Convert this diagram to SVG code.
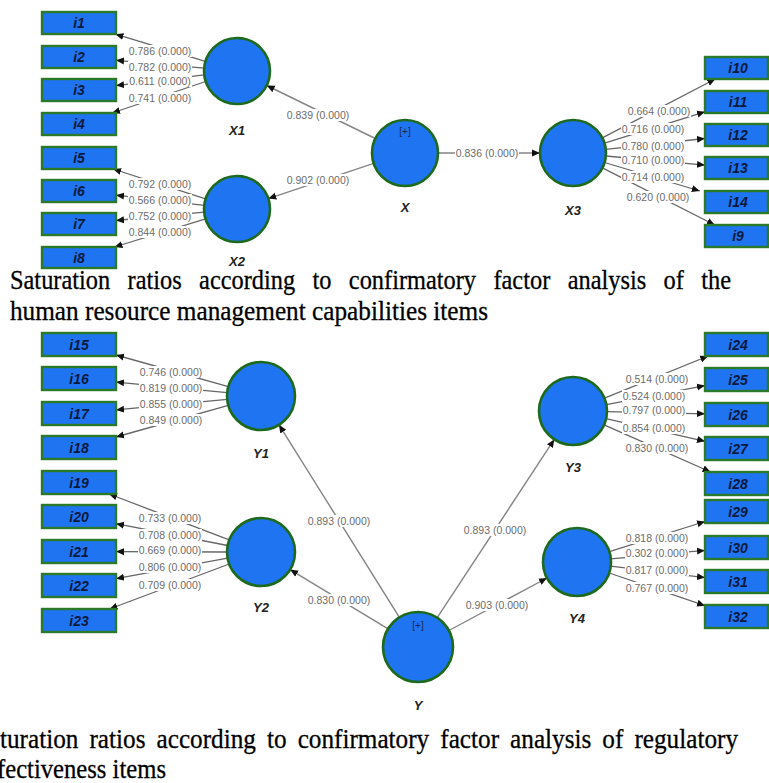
<svg xmlns="http://www.w3.org/2000/svg" width="769" height="783" viewBox="0 0 769 783">
<style>
.lat{fill:#1f74f2;stroke:#1d6a1d;stroke-width:2.6}
.ind{fill:#1f74f2;stroke:#2a7a2a;stroke-width:2.4}
.it{font-family:"Liberation Sans",Arial,sans-serif;font-weight:bold;font-style:italic;font-size:14px;fill:#0b1a3c;text-anchor:middle;dominant-baseline:central}
.ln{font-family:"Liberation Sans",Arial,sans-serif;font-weight:bold;font-style:italic;font-size:13px;fill:#222;text-anchor:middle}
.pl{font-family:"Liberation Sans",Arial,sans-serif;font-size:10px;fill:#1a2a55;text-anchor:middle}
.e{stroke:#666;stroke-width:1.3;fill:none;marker-end:url(#ah)}
.s{stroke:#858585;stroke-width:1.4;fill:none;marker-end:url(#ah)}
.lb{font-family:"Liberation Sans",Arial,sans-serif;font-size:10.5px;fill:#6c6c6c;text-anchor:middle;dominant-baseline:central}
.bg{fill:#fff}
.cap{font-size:28px;fill:#000;stroke:#000;stroke-width:0.3}
</style>
<defs>
<marker id="ah" markerUnits="userSpaceOnUse" markerWidth="9" markerHeight="8" refX="8" refY="4" orient="auto">
<path d="M0,0.5 L8,4 L0,7.5 z" fill="#111"/>
</marker>
</defs>
<rect width="769" height="783" fill="#fff"/>

<g id="connectors">
<!-- top: X1 -->
<line class="e" x1="205.4" y1="61.4" x2="115.5" y2="34.2"/>
<line class="e" x1="204.1" y1="68.1" x2="116" y2="60.3"/>
<line class="e" x1="204.2" y1="74.9" x2="116" y2="85.6"/>
<line class="e" x1="205.7" y1="81.5" x2="112" y2="113"/>
<!-- X2 -->
<line class="e" x1="205.6" y1="198.9" x2="113.1" y2="169"/>
<line class="e" x1="204.2" y1="205.3" x2="116" y2="195.2"/>
<line class="e" x1="204.1" y1="212.1" x2="116" y2="220.5"/>
<line class="e" x1="205.5" y1="218.8" x2="114.5" y2="247"/>
<!-- X structural -->
<line class="s" x1="375.3" y1="138.5" x2="266.7" y2="85.5"/>
<line class="s" x1="373.7" y1="163.4" x2="268.3" y2="198.6"/>
<line class="s" x1="438" y1="153" x2="540" y2="153"/>
<!-- X3 -->
<line class="e" x1="602.3" y1="137.8" x2="715.3" y2="79"/>
<line class="e" x1="604.5" y1="143.2" x2="705" y2="111.8"/>
<line class="e" x1="605.8" y1="149.4" x2="705" y2="138.5"/>
<line class="e" x1="605.9" y1="156" x2="705" y2="165.1"/>
<line class="e" x1="604.6" y1="162.5" x2="699.8" y2="191"/>
<line class="e" x1="602.4" y1="167.9" x2="714.8" y2="225"/>
<!-- bottom: Y1 -->
<line class="e" x1="228.3" y1="386.7" x2="116" y2="355"/>
<line class="e" x1="227.2" y1="392.7" x2="116" y2="382.1"/>
<line class="e" x1="227.2" y1="399.3" x2="116" y2="409.9"/>
<line class="e" x1="228.3" y1="405.3" x2="116" y2="437"/>
<!-- Y2 -->
<line class="e" x1="229.2" y1="539.9" x2="109.1" y2="494"/>
<line class="e" x1="227.6" y1="545.5" x2="116" y2="523.7"/>
<line class="e" x1="227" y1="552" x2="116" y2="551.6"/>
<line class="e" x1="227.6" y1="558.2" x2="116" y2="578.7"/>
<line class="e" x1="229.2" y1="564" x2="109.5" y2="609"/>
<!-- Y structural -->
<line class="s" x1="399.4" y1="617.3" x2="279" y2="424.8"/>
<line class="s" x1="388.1" y1="628.9" x2="290.1" y2="569.6"/>
<line class="s" x1="437.2" y1="617.7" x2="554.3" y2="439.4"/>
<line class="s" x1="448.9" y1="630.5" x2="547" y2="578"/>
<!-- Y3 -->
<line class="e" x1="604.5" y1="398.2" x2="708.2" y2="356"/>
<line class="e" x1="606.4" y1="404.6" x2="705" y2="385.6"/>
<line class="e" x1="607" y1="411.7" x2="705" y2="413.8"/>
<line class="e" x1="606.1" y1="418.6" x2="705" y2="441.3"/>
<line class="e" x1="604.1" y1="424.8" x2="710.6" y2="472"/>
<!-- Y4 -->
<line class="e" x1="609.4" y1="551.7" x2="705" y2="521.5"/>
<line class="e" x1="610.9" y1="558.9" x2="705" y2="550.4"/>
<line class="e" x1="610.7" y1="566.1" x2="705" y2="577.6"/>
<line class="e" x1="609.2" y1="573" x2="705" y2="605.7"/>

<g id="labels">
<rect class="bg" x="128" y="45" width="64" height="12"/><text class="lb" x="160" y="51">0.786 (0.000)</text>
<rect class="bg" x="128" y="61" width="64" height="12"/><text class="lb" x="160" y="67">0.782 (0.000)</text>
<rect class="bg" x="128" y="75" width="64" height="12"/><text class="lb" x="160" y="81">0.611 (0.000)</text>
<rect class="bg" x="128" y="92" width="64" height="12"/><text class="lb" x="160" y="98">0.741 (0.000)</text>
<rect class="bg" x="128" y="178" width="64" height="12"/><text class="lb" x="160" y="184">0.792 (0.000)</text>
<rect class="bg" x="128" y="194" width="64" height="12"/><text class="lb" x="160" y="200">0.566 (0.000)</text>
<rect class="bg" x="128" y="210" width="64" height="12"/><text class="lb" x="160" y="216">0.752 (0.000)</text>
<rect class="bg" x="128" y="226" width="64" height="12"/><text class="lb" x="160" y="232">0.844 (0.000)</text>
<rect class="bg" x="286" y="109" width="64" height="12"/><text class="lb" x="318" y="115">0.839 (0.000)</text>
<rect class="bg" x="286" y="174" width="64" height="12"/><text class="lb" x="318" y="180">0.902 (0.000)</text>
<rect class="bg" x="455" y="147" width="64" height="12"/><text class="lb" x="487" y="153">0.836 (0.000)</text>
<rect class="bg" x="627" y="105" width="64" height="12"/><text class="lb" x="659" y="111">0.664 (0.000)</text>
<rect class="bg" x="621" y="123" width="64" height="12"/><text class="lb" x="653" y="129">0.716 (0.000)</text>
<rect class="bg" x="621" y="140" width="64" height="12"/><text class="lb" x="653" y="146">0.780 (0.000)</text>
<rect class="bg" x="621" y="154" width="64" height="12"/><text class="lb" x="653" y="160">0.710 (0.000)</text>
<rect class="bg" x="621" y="171" width="64" height="12"/><text class="lb" x="653" y="177">0.714 (0.000)</text>
<rect class="bg" x="626" y="191" width="64" height="12"/><text class="lb" x="658" y="197">0.620 (0.000)</text>

<rect class="bg" x="139" y="366" width="64" height="12"/><text class="lb" x="171" y="372">0.746 (0.000)</text>
<rect class="bg" x="139" y="382" width="64" height="12"/><text class="lb" x="171" y="388">0.819 (0.000)</text>
<rect class="bg" x="139" y="398" width="64" height="12"/><text class="lb" x="171" y="404">0.855 (0.000)</text>
<rect class="bg" x="139" y="414" width="64" height="12"/><text class="lb" x="171" y="420">0.849 (0.000)</text>
<rect class="bg" x="138" y="512" width="64" height="12"/><text class="lb" x="170" y="518">0.733 (0.000)</text>
<rect class="bg" x="138" y="529" width="64" height="12"/><text class="lb" x="170" y="535">0.708 (0.000)</text>
<rect class="bg" x="138" y="544" width="64" height="12"/><text class="lb" x="170" y="550">0.669 (0.000)</text>
<rect class="bg" x="138" y="561" width="64" height="12"/><text class="lb" x="170" y="567">0.806 (0.000)</text>
<rect class="bg" x="138" y="579" width="64" height="12"/><text class="lb" x="170" y="585">0.709 (0.000)</text>
<rect class="bg" x="307" y="515" width="64" height="12"/><text class="lb" x="339" y="521">0.893 (0.000)</text>
<rect class="bg" x="307" y="594" width="64" height="12"/><text class="lb" x="339" y="600">0.830 (0.000)</text>
<rect class="bg" x="463" y="524" width="64" height="12"/><text class="lb" x="495" y="530">0.893 (0.000)</text>
<rect class="bg" x="465" y="599" width="64" height="12"/><text class="lb" x="497" y="605">0.903 (0.000)</text>
<rect class="bg" x="625" y="373" width="64" height="12"/><text class="lb" x="657" y="379">0.514 (0.000)</text>
<rect class="bg" x="622" y="390" width="64" height="12"/><text class="lb" x="654" y="396">0.524 (0.000)</text>
<rect class="bg" x="622" y="404" width="64" height="12"/><text class="lb" x="654" y="410">0.797 (0.000)</text>
<rect class="bg" x="622" y="422" width="64" height="12"/><text class="lb" x="654" y="428">0.854 (0.000)</text>
<rect class="bg" x="625" y="442" width="64" height="12"/><text class="lb" x="657" y="448">0.830 (0.000)</text>
<rect class="bg" x="625" y="532" width="64" height="12"/><text class="lb" x="657" y="538">0.818 (0.000)</text>
<rect class="bg" x="625" y="547" width="64" height="12"/><text class="lb" x="657" y="553">0.302 (0.000)</text>
<rect class="bg" x="625" y="564" width="64" height="12"/><text class="lb" x="657" y="570">0.817 (0.000)</text>
<rect class="bg" x="625" y="582" width="64" height="12"/><text class="lb" x="657" y="588">0.767 (0.000)</text>
</g>
</g>

<!-- latent nodes -->
<g id="X"><circle class="lat" cx="405" cy="153" r="33"/><text class="pl" x="405" y="135">[+]</text><text class="ln" x="405" y="212">X</text></g>
<g id="X1"><circle class="lat" cx="237" cy="71" r="33"/><text class="ln" x="237" y="135">X1</text></g>
<g id="X2"><circle class="lat" cx="237" cy="209" r="33"/><text class="ln" x="237" y="266">X2</text></g>
<g id="X3"><circle class="lat" cx="573" cy="153" r="33"/><text class="ln" x="573" y="215">X3</text></g>
<g id="Y"><circle class="lat" cx="418" cy="647" r="35"/><text class="pl" x="418" y="629">[+]</text><text class="ln" x="418" y="710">Y</text></g>
<g id="Y1"><circle class="lat" cx="261" cy="396" r="34"/><text class="ln" x="261" y="458">Y1</text></g>
<g id="Y2"><circle class="lat" cx="261" cy="552" r="34"/><text class="ln" x="261" y="612">Y2</text></g>
<g id="Y3"><circle class="lat" cx="573" cy="411" r="34"/><text class="ln" x="573" y="472">Y3</text></g>
<g id="Y4"><circle class="lat" cx="577" cy="562" r="34"/><text class="ln" x="577" y="623">Y4</text></g>

<!-- indicator nodes top -->
<g id="i1"><rect class="ind" x="42" y="12" width="74" height="22"/><text class="it" x="79" y="23">i1</text></g>
<g id="i2"><rect class="ind" x="42" y="46" width="74" height="22"/><text class="it" x="79" y="57">i2</text></g>
<g id="i3"><rect class="ind" x="42" y="79" width="74" height="22"/><text class="it" x="79" y="90">i3</text></g>
<g id="i4"><rect class="ind" x="42" y="113" width="74" height="22"/><text class="it" x="79" y="124">i4</text></g>
<g id="i5"><rect class="ind" x="42" y="147" width="74" height="22"/><text class="it" x="79" y="158">i5</text></g>
<g id="i6"><rect class="ind" x="42" y="180" width="74" height="22"/><text class="it" x="79" y="191">i6</text></g>
<g id="i7"><rect class="ind" x="42" y="213" width="74" height="22"/><text class="it" x="79" y="224">i7</text></g>
<g id="i8"><rect class="ind" x="42" y="247" width="74" height="21"/><text class="it" x="79" y="257.5">i8</text></g>
<g id="i10"><rect class="ind" x="705" y="57" width="63" height="22"/><text class="it" x="738" y="68">i10</text></g>
<g id="i11"><rect class="ind" x="705" y="91" width="63" height="22"/><text class="it" x="738" y="102">i11</text></g>
<g id="i12"><rect class="ind" x="705" y="124" width="63" height="22"/><text class="it" x="738" y="135">i12</text></g>
<g id="i13"><rect class="ind" x="705" y="157" width="63" height="22"/><text class="it" x="738" y="168">i13</text></g>
<g id="i14"><rect class="ind" x="705" y="191" width="63" height="22"/><text class="it" x="738" y="202">i14</text></g>
<g id="i9"><rect class="ind" x="705" y="225" width="63" height="22"/><text class="it" x="738" y="236">i9</text></g>

<!-- indicator nodes bottom -->
<g id="i15"><rect class="ind" x="42" y="333" width="74" height="23"/><text class="it" x="79" y="344.5">i15</text></g>
<g id="i16"><rect class="ind" x="42" y="367" width="74" height="23"/><text class="it" x="79" y="378.5">i16</text></g>
<g id="i17"><rect class="ind" x="42" y="402" width="74" height="23"/><text class="it" x="79" y="413.5">i17</text></g>
<g id="i18"><rect class="ind" x="42" y="436" width="74" height="23"/><text class="it" x="79" y="447.5">i18</text></g>
<g id="i19"><rect class="ind" x="42" y="471" width="74" height="23"/><text class="it" x="79" y="482.5">i19</text></g>
<g id="i20"><rect class="ind" x="42" y="505" width="74" height="23"/><text class="it" x="79" y="516.5">i20</text></g>
<g id="i21"><rect class="ind" x="42" y="540" width="74" height="23"/><text class="it" x="79" y="551.5">i21</text></g>
<g id="i22"><rect class="ind" x="42" y="574" width="74" height="23"/><text class="it" x="79" y="585.5">i22</text></g>
<g id="i23"><rect class="ind" x="42" y="609" width="74" height="23"/><text class="it" x="79" y="620.5">i23</text></g>
<g id="i24"><rect class="ind" x="705" y="333" width="63" height="23"/><text class="it" x="738" y="344.5">i24</text></g>
<g id="i25"><rect class="ind" x="705" y="368" width="63" height="23"/><text class="it" x="738" y="379.5">i25</text></g>
<g id="i26"><rect class="ind" x="705" y="403" width="63" height="23"/><text class="it" x="738" y="414.5">i26</text></g>
<g id="i27"><rect class="ind" x="705" y="437" width="63" height="23"/><text class="it" x="738" y="448.5">i27</text></g>
<g id="i28"><rect class="ind" x="705" y="472" width="63" height="23"/><text class="it" x="738" y="483.5">i28</text></g>
<g id="i29"><rect class="ind" x="705" y="500" width="63" height="23"/><text class="it" x="738" y="511.5">i29</text></g>
<g id="i30"><rect class="ind" x="705" y="536" width="63" height="23"/><text class="it" x="738" y="547.5">i30</text></g>
<g id="i31"><rect class="ind" x="705" y="570" width="63" height="23"/><text class="it" x="738" y="581.5">i31</text></g>
<g id="i32"><rect class="ind" x="705" y="605" width="63" height="23"/><text class="it" x="738" y="616.5">i32</text></g>

<!-- captions -->
<g id="captions" font-family="'Liberation Serif', 'Times New Roman', serif">
<text class="cap" x="10" y="289" word-spacing="13" textLength="721" lengthAdjust="spacingAndGlyphs">Saturation ratios according to confirmatory factor analysis of the</text>
<text class="cap" x="10" y="320" textLength="478" lengthAdjust="spacingAndGlyphs">human resource management capabilities items</text>
<text class="cap" x="0" y="748" word-spacing="5.3" textLength="738" lengthAdjust="spacingAndGlyphs">turation ratios according to confirmatory factor analysis of regulatory</text>
<text class="cap" x="-3" y="778" textLength="169" lengthAdjust="spacingAndGlyphs">fectiveness items</text>
</g>
</svg>
